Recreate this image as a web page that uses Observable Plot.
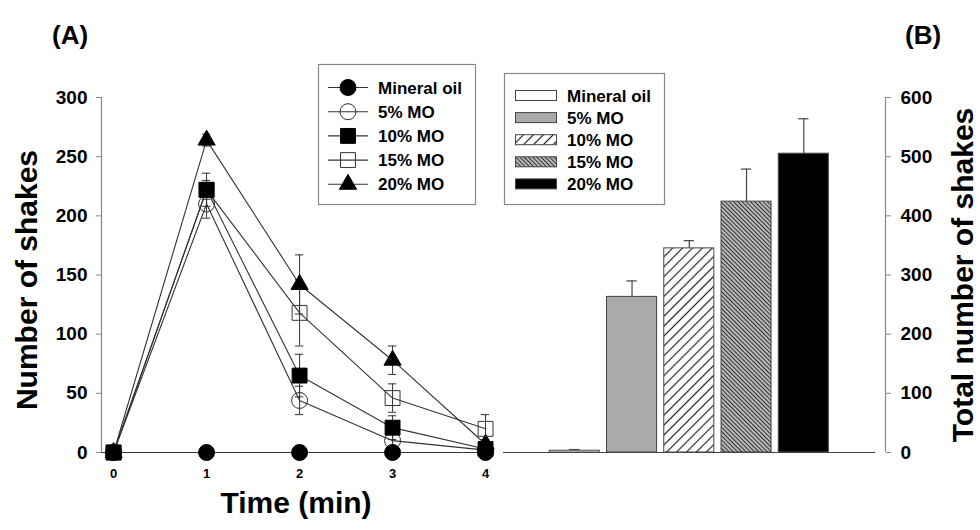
<!DOCTYPE html>
<html><head><meta charset="utf-8">
<script src="https://cdn.jsdelivr.net/npm/d3@7"></script>
<script src="https://cdn.jsdelivr.net/npm/@observablehq/plot@0.6"></script>
<style>
body{margin:0;background:#fff;}
#wrap{position:relative;width:980px;height:530px;overflow:hidden;}
#wrap svg{position:absolute;top:0;}
</style></head><body><div id="wrap"></div>
<script>
// ---------- data ----------
const times = [0, 1, 2, 3, 4];
const seriesNames = ["Mineral oil", "5% MO", "10% MO", "15% MO", "20% MO"];
const shakesMineralOil = [0, 0, 0, 0, 0];
const shakes5 = [0, 210, 44, 10, 2];
const shakes10 = [0, 222, 65, 21, 3];
const shakes15 = [0, 222, 118, 46, 20];
const shakes20 = [0, 264, 142, 78, 7];
const semMineralOil = [0, 0, 0, 0, 0];
const sem5 = [0, 12, 12, 5, 2];
const sem10 = [0, 8, 18, 10, 2];
const sem15 = [0, 14, 28, 12, 12];
const sem20 = [0, 5, 25, 12, 4];
const totals = [3, 263, 345, 424, 505];
const totalsSem = [2, 27, 13, 55, 59];
const yTicksA = [0, 50, 100, 150, 200, 250, 300];
const yTicksB = [0, 100, 200, 300, 400, 500, 600];
const xTicksA = [0, 1, 2, 3, 4];

// ---------- styles ----------
const FONT = "'Liberation Sans', Arial, Helvetica, sans-serif";
const markerStyle = {
  "Mineral oil": {symbol: "circle", r: 8, fill: "#000"},
  "5% MO": {symbol: "circle", r: 8, fill: "none"},
  "10% MO": {symbol: "square", r: 8.4, fill: "#000"},
  "15% MO": {symbol: "square", r: 8.4, fill: "none"},
  "20% MO": {symbol: "triangle", r: 6.4, fill: "#000"}
};
const drawOrder = ["20% MO", "15% MO", "5% MO", "10% MO", "Mineral oil"];
const barFills = ["#ffffff", "#aaaaaa", "url(#hatch10)", "url(#hatch15)", "#000000"];

const seriesValues = [shakesMineralOil, shakes5, shakes10, shakes15, shakes20];
const seriesSem = [semMineralOil, sem5, sem10, sem15, sem20];
const longA = [];
seriesNames.forEach((name, k) => times.forEach((t, i) =>
  longA.push({name, t, v: seriesValues[k][i], e: seriesSem[k][i]})));
const errA = longA.filter(d => d.e > 0);

const wrap = document.getElementById("wrap");

// ---------- overlay (defs, titles, legends) ----------
const ov = d3.create("svg").attr("width", 980).attr("height", 530)
  .style("left", "0px").style("z-index", 2).style("pointer-events", "none")
  .attr("font-family", FONT).attr("font-weight", "bold");
const defs = ov.append("defs");
const p10 = defs.append("pattern").attr("id", "hatch10").attr("patternUnits", "userSpaceOnUse")
  .attr("width", 7).attr("height", 7).attr("patternTransform", "rotate(45)");
p10.append("rect").attr("width", 7).attr("height", 7).attr("fill", "#fff");
p10.append("line").attr("x1", 3.5).attr("x2", 3.5).attr("y1", 0).attr("y2", 7).attr("stroke", "#222").attr("stroke-width", 1.2);
const p15 = defs.append("pattern").attr("id", "hatch15").attr("patternUnits", "userSpaceOnUse")
  .attr("width", 3).attr("height", 3).attr("patternTransform", "rotate(-45)");
p15.append("rect").attr("width", 3).attr("height", 3).attr("fill", "#d0d0d0");
p15.append("line").attr("x1", 1.5).attr("x2", 1.5).attr("y1", 0).attr("y2", 3).attr("stroke", "#333").attr("stroke-width", 1.3);

// ---------- left plot ----------
const xDomA = [-0.13, 4.01];
const markMarks = drawOrder.map(name => {
  const s = markerStyle[name];
  return Plot.dot(longA.filter(d => d.name === name), {
    x: "t", y: "v", symbol: s.symbol, r: s.r, fill: s.fill,
    stroke: s.fill === "none" ? "#333" : "#000", strokeWidth: 1
  });
});
const capA = 0.045;
const left = Plot.plot({
  width: 500, height: 530,
  marginLeft: 101, marginRight: 14, marginTop: 97, marginBottom: 78,
  x: {domain: xDomA, axis: null},
  y: {domain: [0, 300], axis: null},
  style: {fontFamily: FONT, fontWeight: "bold", color: "#000", background: "transparent"},
  marks: [
    Plot.ruleX([xDomA[0]], {stroke: "#888", strokeWidth: 1.2}),
    Plot.ruleY([0], {stroke: "#444", strokeWidth: 1.2}),
    Plot.axisY({ticks: yTicksA, anchor: "left", tickSize: 5, tickPadding: 9, fontSize: 19, stroke: "#888", label: null, tickFormat: d => String(d)}),
    Plot.axisX({ticks: xTicksA, anchor: "bottom", tickSize: 0, tickPadding: 16, fontSize: 13, label: null, tickFormat: d => String(d)}),
    Plot.line(longA, {x: "t", y: "v", z: "name", stroke: "#333", strokeWidth: 1.1}),
    Plot.ruleX(errA, {x: "t", y1: d => d.v - d.e, y2: d => d.v + d.e, stroke: "#333", strokeWidth: 1}),
    Plot.ruleY(errA, {y: d => d.v + d.e, x1: d => d.t - capA, x2: d => d.t + capA, stroke: "#333", strokeWidth: 1}),
    Plot.ruleY(errA, {y: d => d.v - d.e, x1: d => d.t - capA, x2: d => d.t + capA, stroke: "#333", strokeWidth: 1}),
    ...markMarks
  ]
});
left.style.left = "0px";
wrap.appendChild(left);

// ---------- right plot ----------
const xDomB = [-1.245, 5.427];
const hw = 0.437, capB = 0.09;
const barData = seriesNames.map((g, i) => ({g, i, v: totals[i], e: totalsSem[i], fill: barFills[i]}));
const right = Plot.plot({
  width: 480, height: 530,
  marginLeft: 3, marginRight: 95, marginTop: 97, marginBottom: 78,
  x: {domain: xDomB, axis: null},
  y: {domain: [0, 600], axis: null},
  color: {type: "identity"},
  style: {fontFamily: FONT, fontWeight: "bold", color: "#000", background: "transparent"},
  marks: [
    Plot.ruleX([xDomB[1]], {stroke: "#888", strokeWidth: 1.2}),
    Plot.axisY({ticks: yTicksB, anchor: "right", tickSize: 5, tickPadding: 10, fontSize: 19, stroke: "#888", label: null, tickFormat: d => String(d)}),
    Plot.ruleX(barData, {x: "i", y1: "v", y2: d => d.v + d.e, stroke: "#444", strokeWidth: 1.2}),
    Plot.ruleY(barData, {y: d => d.v + d.e, x1: d => d.i - capB, x2: d => d.i + capB, stroke: "#444", strokeWidth: 1.2}),
    Plot.rect(barData, {x1: d => d.i - hw, x2: d => d.i + hw, y1: 0, y2: "v", fill: "fill", stroke: "#444", strokeWidth: 1}),
    Plot.ruleY([0], {stroke: "#444", strokeWidth: 1.2, insetRight: 10})
  ]
});
right.style.left = "500px";
wrap.appendChild(right);

// ---------- titles ----------
ov.append("text").attr("x", 52).attr("y", 44).attr("font-size", 26).text("(A)");
ov.append("text").attr("x", 905).attr("y", 44).attr("font-size", 26).text("(B)");
ov.append("text").attr("transform", "translate(37,280) rotate(-90)").attr("text-anchor", "middle")
  .attr("font-size", 30).text("Number of shakes");
ov.append("text").attr("transform", "translate(973,275) rotate(-90)").attr("text-anchor", "middle")
  .attr("font-size", 30).text("Total number of shakes");
ov.append("text").attr("x", 296).attr("y", 513).attr("text-anchor", "middle")
  .attr("font-size", 30).text("Time (min)");

// ---------- legend A ----------
const lgA = ov.append("g");
lgA.append("rect").attr("x", 318.5).attr("y", 64.5).attr("width", 157).attr("height", 140)
  .attr("fill", "#fff").attr("stroke", "#888").attr("stroke-width", 1.2);
const symMap = {circle: d3.symbolCircle, square: d3.symbolSquare, triangle: d3.symbolTriangle};
seriesNames.forEach((name, i) => {
  const y = 87.5 + i * 24.2;
  const s = markerStyle[name];
  lgA.append("line").attr("x1", 328).attr("x2", 368).attr("y1", y).attr("y2", y).attr("stroke", "#333").attr("stroke-width", 1.1);
  lgA.append("path").attr("transform", `translate(348,${y})`)
    .attr("d", d3.symbol(symMap[s.symbol], Math.PI * s.r * s.r)())
    .attr("fill", s.fill).attr("stroke", s.fill === "none" ? "#333" : "#000");
  lgA.append("text").attr("x", 378).attr("y", y + 6).attr("font-size", 17).text(name);
});

// ---------- legend B ----------
const lgB = ov.append("g");
lgB.append("rect").attr("x", 504.5).attr("y", 73.5).attr("width", 160).attr("height", 131)
  .attr("fill", "#fff").attr("stroke", "#888").attr("stroke-width", 1.2);
seriesNames.forEach((name, i) => {
  const y = 95.5 + i * 22.1;
  lgB.append("rect").attr("x", 515.5).attr("y", y - 5).attr("width", 41).attr("height", 10)
    .attr("fill", barFills[i]).attr("stroke", "#444").attr("stroke-width", 1);
  lgB.append("text").attr("x", 567).attr("y", y + 6).attr("font-size", 17).text(name);
});

wrap.appendChild(ov.node());
</script></body></html>
